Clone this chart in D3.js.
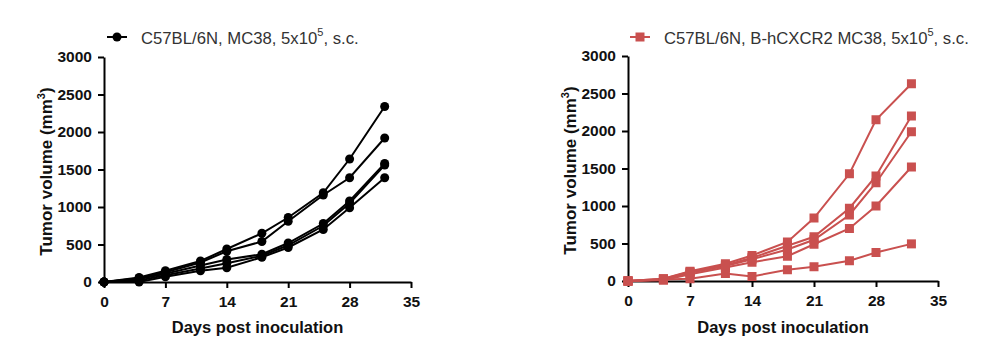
<!DOCTYPE html>
<html>
<head>
<meta charset="utf-8">
<script src="https://d3js.org/d3.v7.min.js"></script>
<style>
  body { margin: 0; background: #fff; }
  text { font-family: "Liberation Sans", Arial, sans-serif; }
</style>
</head>
<body>
<div id="chart"></div>
<script>
// days of measurement
var dias = [0, 4, 7, 11, 14, 18, 21, 25, 28, 32];

// tumour volumes (mm3), one array per mouse
var mc38 = [
  [0, 60, 150, 280, 440, 650, 860, 1190, 1640, 2340],
  [0, 50, 130, 260, 410, 540, 810, 1160, 1390, 1920],
  [0, 40, 110, 220, 300, 370, 520, 780, 1080, 1580],
  [0, 20, 90, 180, 250, 350, 490, 750, 1050, 1560],
  [0, 0, 70, 150, 190, 330, 460, 700, 990, 1390]
];
var hcxcr2 = [
  [0, 30, 130, 230, 340, 520, 840, 1430, 2150, 2630],
  [0, 30, 120, 210, 310, 470, 590, 970, 1400, 2200],
  [0, 20, 110, 200, 290, 420, 550, 880, 1310, 1990],
  [0, 10, 90, 180, 250, 330, 490, 700, 1000, 1520],
  [0, 20, 30, 100, 60, 150, 190, 270, 380, 495]
];

var xTicks = [0, 7, 14, 21, 28, 35];
var yTicks = [0, 500, 1000, 1500, 2000, 2500, 3000];

var svg = d3.select('#chart').append('svg')
  .attr('width', 990).attr('height', 353);

function desenha(dados, opt) {
  var g = svg.append('g');
  var x = d3.scaleLinear().domain([0, 35]).range([opt.x0, opt.x1]);
  var y = d3.scaleLinear().domain([0, 3000]).range([opt.y0, opt.y1]);

  // eixos
  var ax = g.append('g')
    .attr('transform', 'translate(0,' + opt.y0 + ')')
    .call(d3.axisBottom(x).tickValues(xTicks).tickFormat(d3.format('d')).tickSize(6).tickSizeOuter(0));
  var ay = g.append('g')
    .attr('transform', 'translate(' + opt.x0 + ',0)')
    .call(d3.axisLeft(y).tickValues(yTicks).tickFormat(d3.format('d')).tickSize(6).tickSizeOuter(0));
  [ax, ay].forEach(function (a) {
    a.select('.domain').attr('stroke', '#000').attr('stroke-width', 2);
    a.selectAll('.tick line').attr('stroke', '#000').attr('stroke-width', 2);
    a.selectAll('.tick text')
      .attr('fill', '#111')
      .style('font-size', '15.5px')
      .style('font-weight', 'bold');
  });
  ax.selectAll('.tick text').attr('dy', '1.0em');
  ay.selectAll('.tick text').attr('dx', '-0.2em');

  // linhas
  var linha = d3.line().x(function (d, i) { return x(dias[i]); }).y(function (d) { return y(d); });
  dados.forEach(function (serie) {
    g.append('path').datum(serie)
      .attr('d', linha)
      .attr('fill', 'none')
      .attr('stroke', opt.cor)
      .attr('stroke-width', 2);
  });
  dados.forEach(function (serie) {
    var pts = g.append('g').selectAll('.p').data(serie).enter();
    if (opt.quadrado) {
      pts.append('rect')
        .attr('x', function (d, i) { return x(dias[i]) - 4.5; })
        .attr('y', function (d) { return y(d) - 4.5; })
        .attr('width', 9).attr('height', 9)
        .attr('fill', opt.cor);
    } else {
      pts.append('circle')
        .attr('cx', function (d, i) { return x(dias[i]); })
        .attr('cy', function (d) { return y(d); })
        .attr('r', 4.5)
        .attr('fill', opt.cor);
    }
  });

  // titulos
  g.append('text')
    .attr('x', (opt.x0 + opt.x1) / 2).attr('y', 333)
    .attr('text-anchor', 'middle')
    .style('font-size', '16.5px').style('font-weight', 'bold').attr('fill', '#111')
    .text('Days post inoculation');
  var yt = g.append('text')
    .attr('transform', 'translate(' + (opt.x0 - 52) + ',' + ((opt.y0 + opt.y1) / 2 + 2) + ') rotate(-90)')
    .attr('text-anchor', 'middle')
    .style('font-size', '17px').style('font-weight', 'bold').attr('fill', '#111');
  yt.append('tspan').text('Tumor volume (mm');
  yt.append('tspan').attr('dy', -7).style('font-size', '11px').text('3');
  yt.append('tspan').attr('dy', 7).text(')');

  // legenda
  var lx = opt.legX, ly = 37;
  g.append('line').attr('x1', lx).attr('x2', lx + 20).attr('y1', ly).attr('y2', ly)
    .attr('stroke', opt.cor).attr('stroke-width', 2);
  if (opt.quadrado) {
    g.append('rect').attr('x', lx + 5.5).attr('y', ly - 4.5).attr('width', 9).attr('height', 9).attr('fill', opt.cor);
  } else {
    g.append('circle').attr('cx', lx + 10).attr('cy', ly).attr('r', 4.5).attr('fill', opt.cor);
  }
  var lt = g.append('text').attr('x', lx + 34).attr('y', ly + 7)
    .style('font-size', '16.7px').attr('fill', '#333');
  lt.append('tspan').text(opt.legenda + ', 5x10');
  lt.append('tspan').attr('dy', -8).style('font-size', '11px').text('5');
  lt.append('tspan').attr('dy', 8).text(', s.c.');
}

desenha(mc38, {x0: 104, x1: 411, y0: 282, y1: 57, cor: '#000', quadrado: false,
  legX: 107, legenda: 'C57BL/6N, MC38'});
desenha(hcxcr2, {x0: 628, x1: 938, y0: 281, y1: 56, cor: '#c9504f', quadrado: true,
  legX: 630, legenda: 'C57BL/6N, B-hCXCR2 MC38'});
</script>
</body>
</html>
